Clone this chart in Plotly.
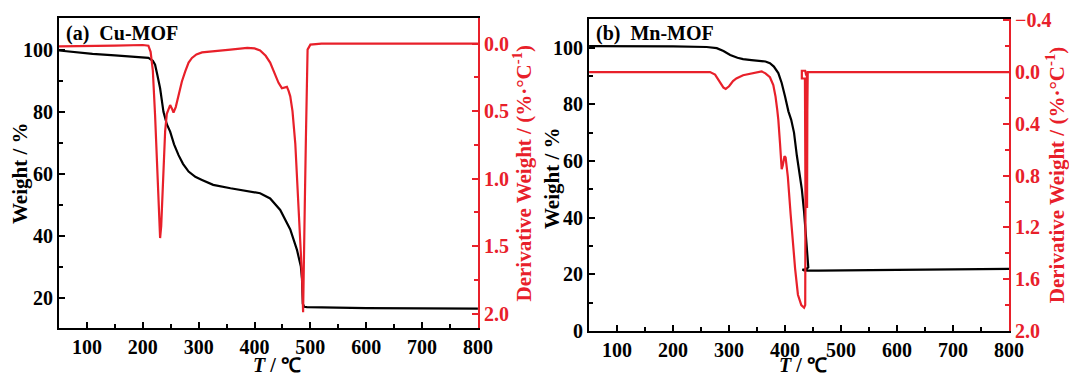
import plotly.graph_objects as go

# ---------------- data ----------------
cu_tga_T = [50, 80, 110, 150, 190, 210, 218, 222, 226, 231, 237, 243, 249, 256, 264, 272, 282, 294, 306, 326,
            357, 386, 410, 428, 446, 464, 476, 483, 485, 486.5, 489, 494, 520, 600, 700, 800]
cu_tga_W = [99.8, 99.2, 98.7, 98.2, 97.8, 97.4, 96.5, 95.2, 92, 87.6, 80, 76, 73.6, 69.5, 66, 63.2, 60.7, 59, 58, 56.4,
            55.3, 54.5, 53.7, 52, 48.3, 42, 35.4, 30, 26, 18, 17, 16.9, 16.8, 16.6, 16.5, 16.4]

cu_dtg_T = [50, 100, 150, 200, 210, 214, 218, 222, 226, 229, 231, 233, 235, 238, 240, 243, 246, 249, 252, 255,
            259, 264, 270, 276, 282, 288, 296, 306, 327, 357, 387, 400, 410, 420, 428, 436, 443, 449, 454, 458,
            461, 464, 468, 473, 479, 483, 485, 487, 488.5, 490, 492, 493, 495, 500, 520, 800]
cu_dtg_D = [0.02, 0.02, 0.015, 0.01, 0.015, 0.06, 0.2, 0.53, 0.95, 1.3, 1.44, 1.35, 1.14, 0.85, 0.65, 0.52, 0.48, 0.455, 0.48, 0.51,
            0.47, 0.38, 0.28, 0.205, 0.14, 0.106, 0.08, 0.065, 0.055, 0.044, 0.032, 0.035, 0.05, 0.09, 0.14, 0.22, 0.29, 0.33, 0.325, 0.32,
            0.35, 0.39, 0.5, 0.74, 1.23, 1.55, 1.72, 1.99, 1.7, 1.2, 0.7, 0.49, 0.044, 0.007, 0.0, 0.0]

mn_tga_T = [50, 100, 200, 260, 278, 290, 302, 315, 325, 340, 355, 365, 373, 380, 388, 394, 400, 406, 411, 416,
            421, 426, 430, 434, 438, 441, 441.5, 439, 435, 431, 434, 440, 460, 600, 800]
mn_tga_W = [100.5, 100.5, 100.4, 100.2, 99.8, 98.8, 97.4, 96.4, 95.9, 95.6, 95.4, 95.1, 94.5, 93.3, 91, 87.5, 82.7, 77.5, 74.5, 70,
            62, 56, 50, 42, 32, 25, 22.5, 22, 21.7, 21.7, 21.4, 21.3, 21.3, 21.6, 21.9]

mn_dtg_T = [50, 200, 266, 275, 283, 290, 294, 300, 307, 313, 325, 337, 350, 358, 365, 373, 379, 383, 386, 388,
            391, 394, 396, 399, 401, 403, 405, 410, 414, 418, 423, 429, 434, 436, 436.5, 436, 435.5, 430, 430, 436,
            437.5, 439, 439.3, 439.8, 440.5, 460, 800]
mn_dtg_D = [0.0, 0.0, 0.0, 0.02, 0.07, 0.12, 0.13, 0.11, 0.07, 0.05, 0.025, 0.013, 0.0, -0.005, 0.01, 0.04, 0.1, 0.19, 0.29, 0.37,
            0.55, 0.75, 0.72, 0.65, 0.66, 0.74, 0.81, 1.1, 1.33, 1.52, 1.72, 1.8, 1.82, 1.8, 1.0, 0.3, 0.05, 0.05, -0.01, -0.01,
            0.02, 0.02, 1.05, 0.3, 0.0, 0.0, 0.0]

x_ticks = [100, 200, 300, 400, 500, 600, 700, 800]
cu_w_ticks = [20, 40, 60, 80, 100]
cu_d_ticks = [0.0, 0.5, 1.0, 1.5, 2.0]
mn_w_ticks = [0, 20, 40, 60, 80, 100]
mn_d_ticks = [-0.4, 0.0, 0.4, 0.8, 1.2, 1.6, 2.0]

# ---------------- style ----------------
RED = "#e8202a"
BLACK = "#000000"
FONT = "Liberation Serif, Times New Roman, serif"
TICK = dict(family=FONT, size=20, color=BLACK, weight="bold")
TICK_R = dict(family=FONT, size=20, color=RED, weight="bold")
TITLE = dict(family=FONT, size=21, color=BLACK, weight="bold")
XTITLE = dict(family=FONT, size=20, color=BLACK, weight="bold")
TITLE_R = dict(family=FONT, size=21, color=RED, weight="bold")

W, H = 1069, 375
ML, MR, MT, MB = 59, 60, 18, 44
PW, PH = W - ML - MR, H - MT - MB


def px(xp):
    return (xp - ML) / PW


def py(yp):
    return (H - MB - yp) / PH


fig = go.Figure()
fig.add_trace(go.Scatter(x=cu_tga_T, y=cu_tga_W, mode="lines", line=dict(color=BLACK, width=2.2),
                         xaxis="x", yaxis="y", showlegend=False))
fig.add_trace(go.Scatter(x=cu_dtg_T, y=cu_dtg_D, mode="lines", line=dict(color=RED, width=2.2),
                         xaxis="x", yaxis="y2", showlegend=False))
fig.add_trace(go.Scatter(x=mn_tga_T, y=mn_tga_W, mode="lines", line=dict(color=BLACK, width=2.2),
                         xaxis="x2", yaxis="y3", showlegend=False))
fig.add_trace(go.Scatter(x=mn_dtg_T, y=mn_dtg_D, mode="lines", line=dict(color=RED, width=2.2),
                         xaxis="x2", yaxis="y4", showlegend=False))


def xax(domain, anchor):
    return dict(domain=domain, anchor=anchor, range=[50, 800], tickvals=x_ticks, automargin=False,
                ticks="inside", ticklen=6, tickwidth=2, tickcolor=BLACK,
                minor=dict(ticks="inside", ticklen=4, tickwidth=2, dtick=50, tick0=0, tickcolor=BLACK),
                showline=True, linewidth=2, linecolor=BLACK, mirror=True,
                showgrid=False, zeroline=False, tickfont=TICK)


def yax(domain, anchor, rng, tv, minor_dt):
    return dict(domain=domain, anchor=anchor, range=rng, tickvals=tv, automargin=False,
                ticks="inside", ticklen=6, tickwidth=2, tickcolor=BLACK,
                minor=dict(ticks="inside", ticklen=4, tickwidth=2, dtick=minor_dt, tick0=0, tickcolor=BLACK),
                showline=True, linewidth=2, linecolor=BLACK,
                showgrid=False, zeroline=False, tickfont=TICK)


def y2ax(overlay, anchor, rng, tv, minor_dt, fmt):
    return dict(overlaying=overlay, anchor=anchor, side="right", range=rng, tickvals=tv, automargin=False,
                tickformat=fmt,
                ticks="inside", ticklen=6, tickwidth=2, tickcolor=RED,
                minor=dict(ticks="inside", ticklen=4, tickwidth=2, dtick=minor_dt, tick0=0, tickcolor=RED),
                showline=True, linewidth=2, linecolor=RED,
                showgrid=False, zeroline=False, tickfont=TICK_R,
                title=dict(text="Derivative Weight / (%·°C<sup>-1</sup>)", font=TITLE_R, standoff=4))


def label(text, xp, yp, angle=0, font=TITLE):
    return dict(text=text, xref="paper", yref="paper", x=px(xp), y=py(yp), xanchor="center", yanchor="middle",
                textangle=angle, showarrow=False, font=font)


fig.update_layout(
    width=W, height=H,
    margin=dict(l=ML, r=MR, t=MT, b=MB, autoexpand=False),
    paper_bgcolor="white", plot_bgcolor="white",
    xaxis=xax([0, 0.441], "y"),
    yaxis=yax([0.008, 1], "x", [10, 110.3], cu_w_ticks, 10),
    yaxis2=y2ax("y", "x", [2.11, -0.19], cu_d_ticks, 0.25, ".1f"),
    xaxis2=xax([0.558, 1], "y3"),
    yaxis3=yax([0, 0.997], "x2", [0, 110.1], mn_w_ticks, 10),
    yaxis4=y2ax("y3", "x2", [2.0, -0.41], mn_d_ticks, 0.2, ".1f"),
    annotations=[
        dict(text="(a)  Cu-MOF", xref="x domain", yref="y domain", x=0.012, y=0.995,
             xanchor="left", yanchor="top", showarrow=False, font=dict(family=FONT, size=20, color=BLACK, weight="bold")),
        dict(text="(b)  Mn-MOF", xref="x2 domain", yref="y3 domain", x=0.012, y=0.995,
             xanchor="left", yanchor="top", showarrow=False, font=dict(family=FONT, size=20, color=BLACK, weight="bold")),
        label("Weight / %", 20, 173, -90),
        label("Weight / %", 552, 178, -90),
        label("<i>T</i> / ℃", 277, 365, 0, XTITLE),
        label("<i>T</i> / ℃", 803, 365, 0, XTITLE),
    ],
)

fig.write_html("out.html")
